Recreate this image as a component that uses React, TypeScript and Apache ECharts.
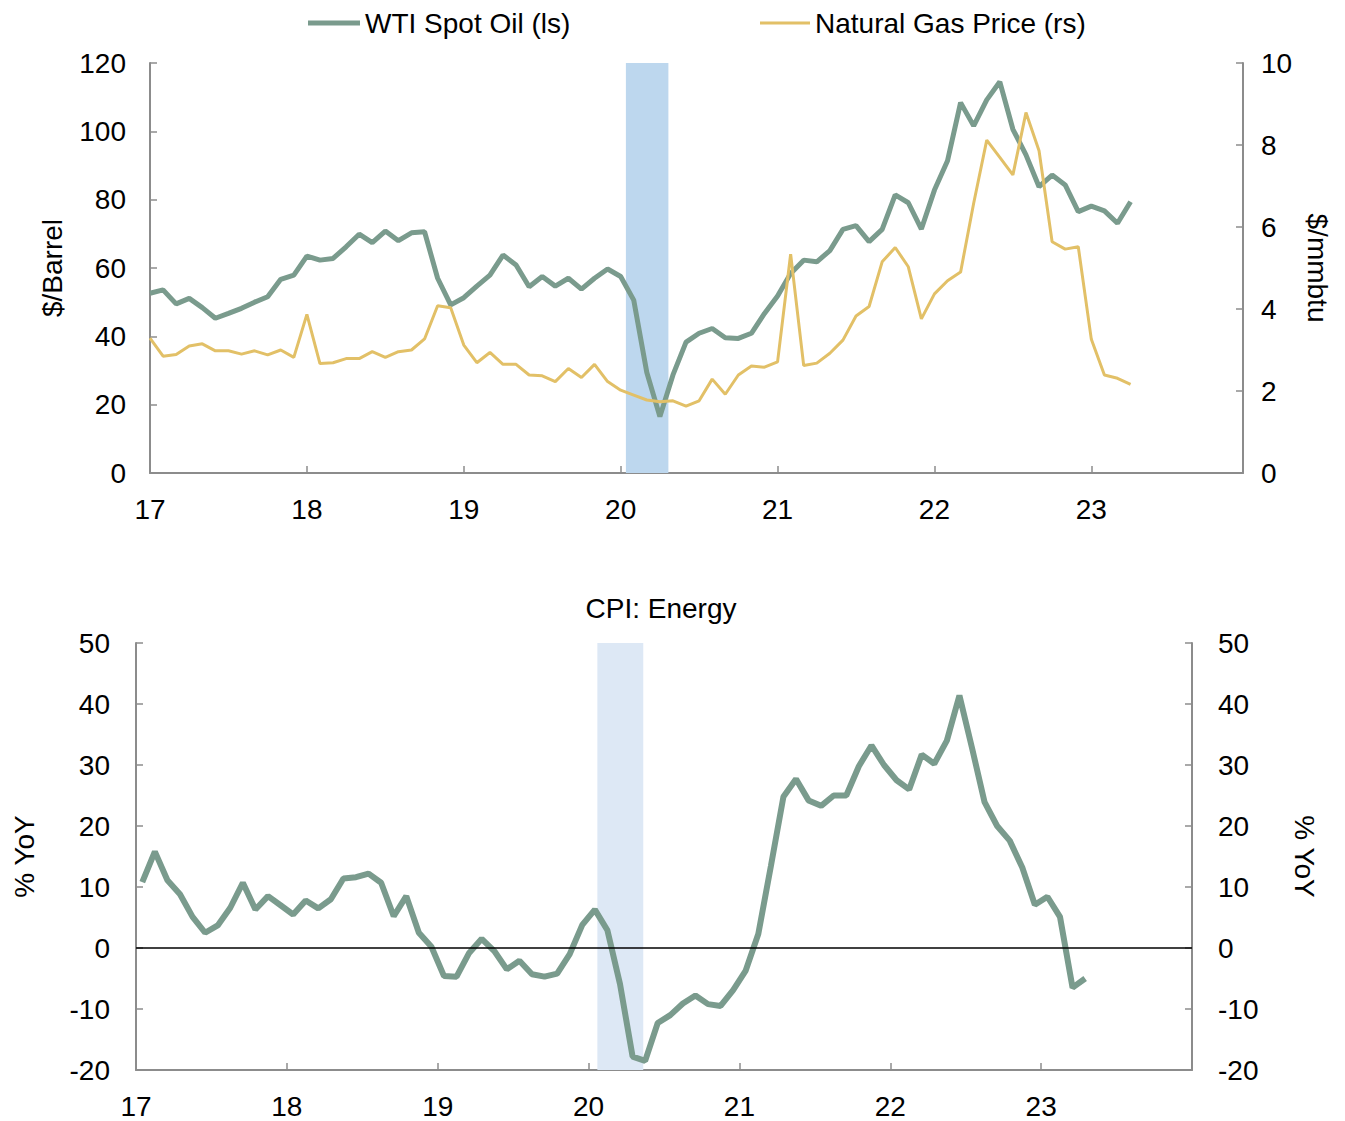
import React, { useEffect, useRef } from "react";
import * as echarts from "echarts";

// Monthly data, Jan 2017 = month 0
const yearLabels = ["17", "18", "19", "20", "21", "22", "23"];

const wtiOil = [
  52.6, 53.6, 49.5, 51.1, 48.4, 45.3, 46.7, 48.2, 50.0, 51.6, 56.7, 57.9,
  63.5, 62.3, 62.8, 66.2, 69.9, 67.4, 70.8, 68.0, 70.3, 70.6, 57.0, 49.2,
  51.3, 54.7, 57.9, 63.8, 60.9, 54.5, 57.5, 54.7, 57.0, 53.8, 57.0, 59.7,
  57.5, 50.6, 29.4, 16.5, 28.7, 38.3, 40.9, 42.3, 39.6, 39.4, 40.9, 46.7,
  51.8, 58.4, 62.3, 61.8, 65.1, 71.3, 72.4, 67.7, 71.3, 81.4, 79.1, 71.4,
  82.8, 91.4, 108.4, 101.6, 109.2, 114.5, 100.6, 93.1, 83.8, 87.2, 84.3, 76.5,
  78.1, 76.7, 73.1, 79.4,
];

const natGas = [
  3.29, 2.85, 2.89, 3.10, 3.15, 2.98, 2.98, 2.90, 2.98, 2.88, 3.00, 2.82,
  3.87, 2.67, 2.69, 2.79, 2.79, 2.96, 2.82, 2.96, 3.00, 3.27, 4.08, 4.03,
  3.12, 2.69, 2.94, 2.65, 2.65, 2.39, 2.37, 2.23, 2.55, 2.33, 2.65, 2.23,
  2.02, 1.90, 1.78, 1.74, 1.76, 1.63, 1.76, 2.29, 1.92, 2.39, 2.61, 2.58,
  2.71, 5.34, 2.62, 2.68, 2.92, 3.24, 3.83, 4.06, 5.15, 5.50, 5.03, 3.76,
  4.37, 4.69, 4.90, 6.58, 8.12, 7.70, 7.27, 8.79, 7.86, 5.64, 5.46, 5.52,
  3.26, 2.39, 2.31, 2.16,
];

const cpiEnergy = [
  10.8, 15.8, 11.1, 8.8, 5.1, 2.5, 3.7, 6.6, 10.7, 6.3, 8.5, 7.0,
  5.5, 7.8, 6.5, 8.0, 11.4, 11.6, 12.2, 10.7, 5.2, 8.5, 2.5, 0.2,
  -4.6, -4.7, -0.8, 1.5, -0.5, -3.5, -2.1, -4.3, -4.7, -4.2, -1.0, 3.8,
  6.3, 2.9, -5.9, -17.8, -18.5, -12.3, -11.0, -9.1, -7.8, -9.2, -9.5, -6.9,
  -3.7, 2.3, 13.4, 24.8, 27.7, 24.2, 23.3, 25.0, 25.0, 29.8, 33.2, 30.0,
  27.5, 26.0, 31.7, 30.2, 34.0, 41.4, 32.8, 23.9, 20.0, 17.6, 13.2, 7.1,
  8.4, 5.1, -6.5, -5.0,
];

// recession shading (month index)
const recessionTop = [36.4, 39.65];
const recessionBottom = [36.7, 40.35];

const FONT = "'Liberation Sans', Arial, Helvetica, sans-serif";
const AXIS = "#8c8c8c";
const GREEN = "#7a9b8d";
const GOLD = "#e2c067";

const yearFormatter = (v: number) => {
  if (Math.abs(v % 12) < 1e-6) {
    const idx = Math.round(v / 12);
    return yearLabels[idx] ?? "";
  }
  return "";
};

export default function App() {
  const ref = useRef<HTMLDivElement>(null);

  useEffect(() => {
    if (!ref.current) return;
    const chart = echarts.init(ref.current, undefined, { renderer: "svg" });

    const axisLine = { show: true, onZero: false, lineStyle: { color: AXIS, width: 2 } };
    const axisTick = { show: true, inside: true, length: 7, lineStyle: { color: AXIS, width: 1.5 } };
    const label = (margin: number) => ({
      color: "#000",
      fontSize: 28,
      fontFamily: FONT,
      margin,
    });
    const nameStyle = { color: "#000", fontSize: 28, fontFamily: FONT };
    const legendText = { color: "#000", fontSize: 28, fontFamily: FONT };

    const option: any = {
      animation: false,
      backgroundColor: "#ffffff",
      textStyle: { fontFamily: FONT },
      legend: [
        {
          left: 303,
          top: 4,
          icon: "rect",
          itemWidth: 52,
          itemHeight: 5,
          textStyle: legendText,
          data: ["WTI Spot Oil (ls)"],
        },
        {
          left: 755,
          top: 4,
          icon: "rect",
          itemWidth: 50,
          itemHeight: 3,
          textStyle: legendText,
          data: ["Natural Gas Price (rs)"],
        },
      ],
      graphic: [
        {
          type: "text",
          x: 661,
          y: 608,
          style: {
            text: "CPI: Energy",
            fill: "#000",
            font: `28px ${FONT}`,
            textAlign: "center",
            textVerticalAlign: "middle",
          },
        },
      ],
      grid: [
        { left: 150, top: 63, width: 1093, height: 410 },
        { left: 136, top: 643, width: 1056, height: 427 },
      ],
      xAxis: [
        {
          gridIndex: 0,
          type: "value",
          min: 0,
          max: 83.6,
          interval: 12,
          axisLine,
          axisTick,
          splitLine: { show: false },
          axisLabel: { ...label(22), formatter: yearFormatter, showMaxLabel: false },
        },
        {
          gridIndex: 1,
          type: "value",
          min: 0,
          max: 84,
          interval: 12,
          axisLine,
          axisTick,
          splitLine: { show: false },
          axisLabel: { ...label(22), formatter: yearFormatter, showMaxLabel: false },
        },
      ],
      yAxis: [
        {
          gridIndex: 0,
          type: "value",
          position: "left",
          min: 0,
          max: 120,
          interval: 20,
          axisLine,
          axisTick,
          splitLine: { show: false },
          axisLabel: label(24),
          name: "$/Barrel",
          nameLocation: "middle",
          nameGap: 84,
          nameTextStyle: nameStyle,
        },
        {
          gridIndex: 0,
          type: "value",
          position: "right",
          min: 0,
          max: 10,
          interval: 2,
          axisLine,
          axisTick,
          splitLine: { show: false },
          axisLabel: label(18),
          name: "$/mmbtu",
          nameLocation: "middle",
          nameRotate: -90,
          nameGap: 60,
          nameTextStyle: nameStyle,
        },
        {
          gridIndex: 1,
          type: "value",
          position: "left",
          min: -20,
          max: 50,
          interval: 10,
          axisLine,
          axisTick,
          splitLine: { show: false },
          axisLabel: label(26),
          name: "% YoY",
          nameLocation: "middle",
          nameGap: 98,
          nameTextStyle: nameStyle,
        },
        {
          gridIndex: 1,
          type: "value",
          position: "right",
          min: -20,
          max: 50,
          interval: 10,
          axisLine,
          axisTick,
          splitLine: { show: false },
          axisLabel: label(26),
          name: "% YoY",
          nameLocation: "middle",
          nameRotate: -90,
          nameGap: 98,
          nameTextStyle: nameStyle,
        },
      ],
      series: [
        {
          name: "WTI Spot Oil (ls)",
          type: "line",
          xAxisIndex: 0,
          yAxisIndex: 0,
          symbol: "none",
          color: GREEN,
          lineStyle: { color: GREEN, width: 5 },
          data: wtiOil.map((v, i) => [i, v]),
          markArea: {
            silent: true,
            itemStyle: { color: "#bdd7ee" },
            data: [[{ xAxis: recessionTop[0] }, { xAxis: recessionTop[1] }]],
          },
        },
        {
          name: "Natural Gas Price (rs)",
          type: "line",
          xAxisIndex: 0,
          yAxisIndex: 1,
          symbol: "none",
          color: GOLD,
          lineStyle: { color: GOLD, width: 3 },
          data: natGas.map((v, i) => [i, v]),
        },
        {
          name: "CPI: Energy",
          type: "line",
          xAxisIndex: 1,
          yAxisIndex: 2,
          symbol: "none",
          color: GREEN,
          lineStyle: { color: GREEN, width: 6 },
          data: cpiEnergy.map((v, i) => [i + 0.5, v]),
          markArea: {
            silent: true,
            itemStyle: { color: "#dde8f5" },
            data: [[{ xAxis: recessionBottom[0] }, { xAxis: recessionBottom[1] }]],
          },
          markLine: {
            silent: true,
            symbol: "none",
            label: { show: false },
            lineStyle: { color: "#000", width: 1.5, type: "solid" },
            data: [{ yAxis: 0 }],
          },
        },
      ],
    };

    chart.setOption(option);
    return () => chart.dispose();
  }, []);

  return (
    <div
      ref={ref}
      style={{ position: "fixed", left: 0, top: 0, width: 1345, height: 1121, background: "#fff" }}
    />
  );
}
